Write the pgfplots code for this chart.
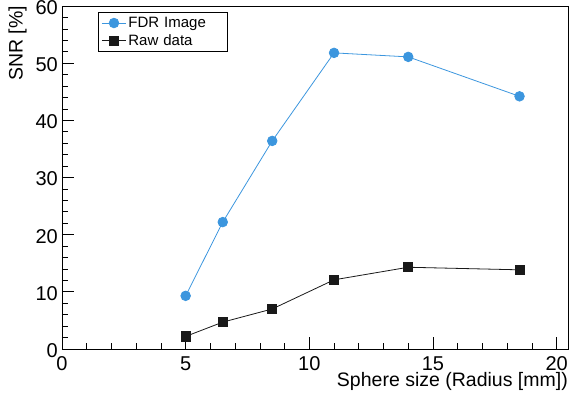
\documentclass[border=0pt]{standalone}
\usepackage{pgfplots}
\pgfplotsset{compat=1.18}
\usepackage{fontspec}
\setmainfont{Liberation Sans}
\definecolor{fdr}{RGB}{60,150,222}
\definecolor{raw}{RGB}{25,25,25}
\begin{document}
\begin{tikzpicture}
\begin{axis}[
  scale only axis,
  width=506pt, height=343pt,
  xmin=0, xmax=20.46, ymin=0, ymax=60,
  xtick={0,5,10,15,20}, ytick={0,10,20,30,40,50,60},
  minor x tick num=4, minor y tick num=4,
  xtick pos=bottom, ytick pos=left,
  tick align=inside,
  major tick length=12pt, minor tick length=6pt,
  every tick/.style={black, line width=0.7pt},
  axis line style={black, line width=0.9pt},
  /pgf/number format/assume math mode=true,
  tick label style={font=\fontsize{20}{24}\selectfont},
  xticklabel style={inner sep=0pt, yshift=-7.5pt},
  yticklabel style={inner sep=0pt, xshift=-4pt, yshift=-1.5pt},
  label style={font=\fontsize{19.5}{24}\selectfont},
  xlabel={Sphere size (Radius [mm])},
  ylabel={SNR [\%]},
  xlabel style={at={(axis description cs:1,-0.109)}, anchor=base east, inner sep=0pt},
  ylabel style={at={(axis description cs:-0.0779,1)}, anchor=base east, inner sep=0pt},
  legend style={at={(axis description cs:0.0717,0.9816)}, anchor=north west,
    draw=black, line width=0.6pt, fill=white,
    font=\fontsize{15}{18}\selectfont,
    inner xsep=3pt, inner ysep=2.5pt, row sep=1.5pt,
    nodes={inner sep=2pt, text width=94pt, align=left}},
  legend image code/.code={\draw[mark repeat=2,mark phase=2,#1] plot coordinates {(0pt,0pt)(12pt,0pt)(24pt,0pt)};},
]
\addplot[color=fdr, line width=0.8pt, mark=*, mark size=4.8pt, mark options={fill=fdr, draw=fdr}]
  coordinates {(5,9.3) (6.5,22.2) (8.5,36.4) (11,51.8) (14,51.1) (18.5,44.2)};
\addlegendentry{FDR Image}
\addplot[color=raw, line width=0.8pt, mark=square*, mark size=4.6pt, mark options={fill=raw, draw=raw}]
  coordinates {(5,2.2) (6.5,4.7) (8.5,7.0) (11,12.1) (14,14.3) (18.5,13.85)};
\addlegendentry{Raw data}
\end{axis}
\pgfresetboundingbox
\path ([shift={(-62pt,-52pt)}]current axis.south west) rectangle ([shift={(2pt,6pt)}]current axis.north east);
\end{tikzpicture}
\end{document}
